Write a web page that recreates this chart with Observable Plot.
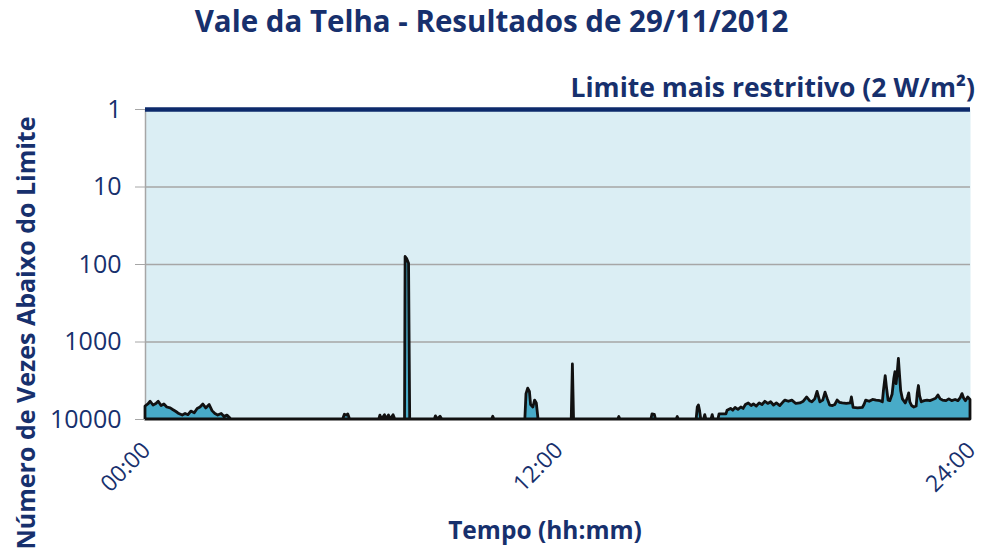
<!DOCTYPE html>
<html><head><meta charset="utf-8">
<script src="https://cdn.jsdelivr.net/npm/d3@7"></script>
<script src="https://cdn.jsdelivr.net/npm/@observablehq/plot@0.6"></script>
<style>
body{margin:0;background:#fff;font-family:"Open Sans",sans-serif}
#wrap{position:relative;width:983px;height:552px;overflow:hidden}
#chart{position:absolute;left:0;top:0}
.t{position:absolute;white-space:nowrap;font-weight:700;color:#17306d;line-height:1}
</style></head><body>
<div id="wrap">
<div id="chart"></div>
<div class="t" id="title" style="left:0;width:983px;text-align:center;top:6px;font-size:29.5px">Vale da Telha - Resultados de 29/11/2012</div>
<div class="t" id="limit" style="right:8px;top:74px;font-size:26.5px">Limite mais restritivo (2 W/m²)</div>
<div class="t" id="ylab" style="left:25px;top:333px;font-size:25px;transform:translate(-50%,-50%) rotate(-90deg)">Número de Vezes Abaixo do Limite</div>
<div class="t" id="xlab" style="left:545px;top:530px;font-size:24.5px;transform:translate(-50%,-50%)">Tempo (hh:mm)</div>
</div>
<script>
// time in minutes since 00:00
const tempoMin = [0,5,9,14,19,23,28,33,38,44,49,54,59,65,70,75,80,86,91,96,101,106,112,117,122,127,133,138,143,150,
345,348,351,354,357,408,410,413,418,421,425,428,433,436,
453,454,457,460,462,505,507,510,515,518,605,607,609,
663,665,668,671,673,677,680,683,686,744,746,748,825,827,829,883,885,889,891,927,929,931,
962,964,966,968,970,975,977,979,988,990,992,1000,1002,1014,1016,1022,1026,1030,1035,1040,1044,1048,1053,1058,1062,1067,1072,1077,1082,1087,1092,1097,1102,1108,
1113,1117,1123,1129,1136,1143,1149,1155,1160,1164,1169,1173,1176,1178,1183,1187,1191,1195,1200,1204,1208,1212,1217,1224,1231,1233,1236,1244,1252,1255,1258,1264,1270,1276,
1283,1287,1289,1292,1294,1297,1300,1304,1307,1309,1311,1313,1315,1317,1319,1322,1327,1331,1333,1335,1338,1342,1346,1348,1350,1352,1355,1360,1365,1370,1375,1380,1384,1388,
1392,1398,1403,1408,1414,1419,1423,1426,1429,1432,1436,1440];
// number of times below the limit
const vezes = [6800,6400,5900,6600,6300,5900,6700,6400,7000,7200,7600,8000,8500,8900,8500,8800,7900,8300,7300,7000,6400,7200,6500,7800,8500,8900,8500,9300,8900,10000,
10000,8700,8900,8600,10000,10000,8900,10000,8800,10000,8900,10000,8800,10000,
10000,80,86,98,10000,10000,9100,10000,9200,10000,10000,9200,10000,
10000,4700,4000,4400,6500,7000,5700,6200,10000,10000,1950,10000,10000,9300,10000,10000,8600,8700,10000,10000,9300,10000,
10000,7000,6600,7800,10000,10000,8800,10000,10000,8800,10000,10000,8600,8600,7700,7300,7700,7100,7500,7000,7300,6500,6200,6700,6400,6800,6200,6500,5900,6300,6000,6600,6200,6700,
6100,5700,5900,5700,6300,6200,5900,5200,5800,6000,5500,4400,5300,6000,5700,4500,5500,6600,6700,6500,5700,6100,6200,6300,6200,5200,7100,7200,7100,6500,5700,5900,5600,5700,
5800,6000,4200,2750,3800,5700,5800,4800,3000,2450,3500,2500,1650,2700,4300,5500,6200,5200,4600,6000,6700,7000,6800,4600,3700,5000,6000,5800,5700,5800,5600,5400,4900,5500,
5700,5800,5500,5800,5600,5800,5300,4700,5400,5800,5200,5600];
const yTicks = [1, 10, 100, 1000, 10000];
const xTicks = [0, 720, 1440];
const xTickLabels = ["00:00", "12:00", "24:00"];
const limite = 1;

const data = tempoMin.map((t, i) => ({t, v: vezes[i]}));
const navy = "#17306d";

const chart = Plot.plot({
  width: 983,
  height: 552,
  marginTop: 109,
  marginBottom: 133,
  marginLeft: 145,
  marginRight: 13,
  style: {fontFamily: "'Open Sans', sans-serif", background: "transparent", overflow: "visible"},
  x: {domain: [0, 1440]},
  y: {type: "log", domain: [1, 10000], reverse: true},
  marks: [
    Plot.frame({fill: "#dbeef4", stroke: null}),
    Plot.gridY([10, 100, 1000], {stroke: "#a6a6a6", strokeOpacity: 1, strokeWidth: 1.3}),
    Plot.ruleX([0], {stroke: "#a6a6a6", strokeWidth: 1.5}),
    Plot.area(data, {x1: "t", y1: () => 10000, y2: "v", fill: "#48abc8", stroke: "#111", strokeWidth: 2.8, strokeLinejoin: "round"}),
    Plot.ruleY([limite], {stroke: "#0d2a6b", strokeWidth: 4.5}),
    Plot.axisY(yTicks, {tickFormat: d => String(d), tickSize: 10, tickPadding: 14, fontSize: 25, fill: navy, stroke: "#a6a6a6", label: null}),
    Plot.axisX(xTicks, {tickFormat: (d) => xTickLabels[xTicks.indexOf(d)], tickSize: 0, tickPadding: 27, tickRotate: -45, fontSize: 23, dx: 1, fill: navy, label: null})
  ]
});
document.getElementById("chart").appendChild(chart);
</script>
</body></html>
